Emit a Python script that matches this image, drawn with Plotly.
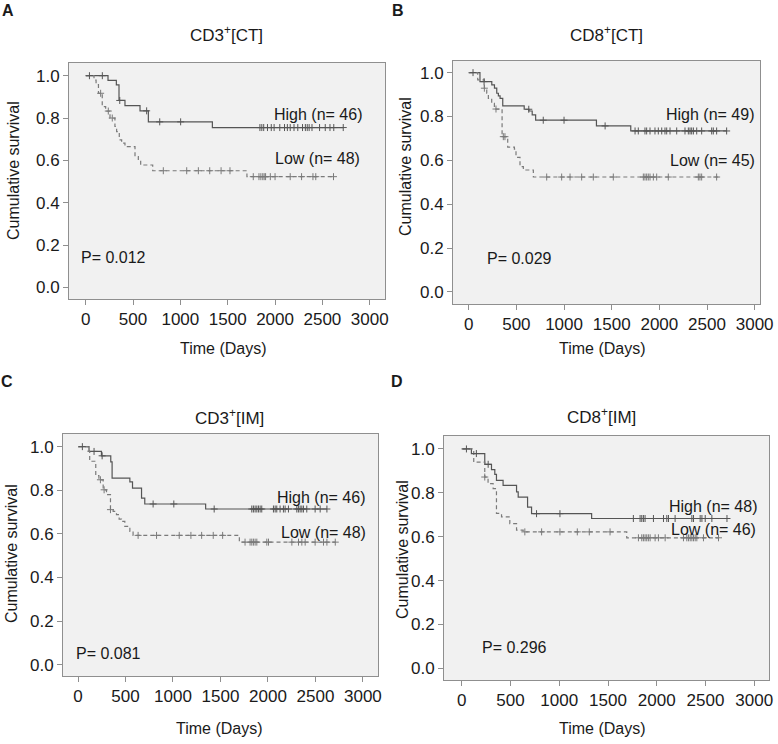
import plotly.graph_objects as go

# ---------------- data ----------------
A_high_t = [0, 236, 324, 352, 415, 574, 662, 1338, 2720]
A_high_s = [1.0, 0.978, 0.957, 0.883, 0.859, 0.834, 0.782, 0.755, 0.755]
A_high_c = [40, 176, 360, 644, 782, 1003, 1840, 1860, 1880, 1920, 1960, 1990, 2050, 2100,
            2130, 2160, 2200, 2240, 2290, 2320, 2340, 2360, 2390, 2470, 2530, 2580, 2620, 2720]
A_low_t = [0, 88, 110, 135, 175, 211, 257, 309, 327, 355, 380, 415, 521, 556, 581, 708, 1703, 2617]
A_low_s = [1.0, 0.979, 0.958, 0.917, 0.854, 0.833, 0.800, 0.760, 0.736, 0.697, 0.681, 0.665,
           0.618, 0.600, 0.578, 0.551, 0.523, 0.523]
A_low_c = [158, 239, 281, 820, 1067, 1190, 1310, 1430, 1524, 1770, 1830, 1850, 1870, 1885,
           1900, 1950, 2000, 2160, 2280, 2400, 2430, 2617]

B_high_t = [0, 118, 242, 270, 294, 311, 329, 357, 582, 631, 666, 702, 1340, 1700, 2710]
B_high_s = [1.0, 0.959, 0.944, 0.929, 0.906, 0.894, 0.883, 0.848, 0.833, 0.825, 0.807, 0.783,
            0.757, 0.734, 0.734]
B_high_c = [45, 161, 630, 782, 1000, 1431, 1745, 1779, 1849, 1867, 1902, 1954, 1989, 2025, 2059,
            2077, 2112, 2182, 2269, 2304, 2322, 2339, 2357, 2392, 2444, 2549, 2566, 2601, 2706]
B_low_t = [0, 94, 164, 189, 206, 241, 269, 350, 409, 479, 496, 538, 573, 678, 2618]
B_low_s = [1.0, 0.967, 0.929, 0.906, 0.883, 0.860, 0.834, 0.708, 0.660, 0.651, 0.614, 0.571,
           0.556, 0.524, 0.524]
B_low_c = [164, 286, 363, 380, 818, 975, 1063, 1185, 1307, 1517, 1832, 1849, 1867, 1884, 1902,
           1937, 1972, 2094, 2409, 2426, 2444, 2601]

C_high_t = [0, 116, 247, 345, 359, 546, 574, 669, 703, 1344, 2621]
C_high_s = [1.0, 0.978, 0.958, 0.930, 0.856, 0.838, 0.810, 0.764, 0.737, 0.714, 0.714]
C_high_c = [46, 169, 254, 791, 1009, 1434, 1830, 1847, 1865, 1883, 1900, 1918, 1935, 2058, 2076,
            2093, 2128, 2163, 2181, 2216, 2304, 2321, 2339, 2357, 2374, 2409, 2497, 2550, 2621]
C_low_t = [0, 106, 123, 187, 220, 265, 300, 342, 370, 405, 433, 458, 493, 546, 580, 1699, 2709]
C_low_s = [1.0, 0.978, 0.933, 0.867, 0.848, 0.802, 0.780, 0.711, 0.703, 0.688, 0.668, 0.657,
           0.634, 0.611, 0.593, 0.562, 0.562]
C_low_c = [236, 275, 342, 633, 827, 1066, 1189, 1302, 1424, 1523, 1759, 1812, 1830, 1847, 1865,
           1883, 1988, 2006, 2252, 2322, 2357, 2392, 2497, 2585, 2621, 2709]

D_high_t = [0, 99, 236, 305, 339, 356, 424, 562, 579, 675, 716, 1332, 2720]
D_high_s = [1.0, 0.979, 0.930, 0.906, 0.884, 0.857, 0.834, 0.804, 0.780, 0.735, 0.705, 0.683, 0.683]
D_high_c = [48, 150, 271, 767, 1007, 1760, 1829, 1846, 1863, 1880, 1966, 2069, 2103, 2120, 2188,
            2360, 2377, 2445, 2463, 2497, 2565, 2720]
D_low_t = [0, 123, 236, 270, 322, 356, 408, 493, 562, 630, 1692, 2633]
D_low_s = [1.0, 0.940, 0.872, 0.842, 0.819, 0.706, 0.690, 0.660, 0.630, 0.622, 0.595, 0.595]
D_low_c = [236, 647, 819, 1007, 1185, 1308, 1521, 1812, 1846, 1863, 1880, 1897, 1914, 1932, 1983,
           2017, 2086, 2274, 2308, 2325, 2343, 2360, 2377, 2394, 2411, 2479, 2633]

titles = ["CD3<sup>+</sup>[CT]", "CD8<sup>+</sup>[CT]", "CD3<sup>+</sup>[IM]", "CD8<sup>+</sup>[IM]"]
letters = ["A", "B", "C", "D"]
high_labels = ["High (n= 46)", "High (n= 49)", "High (n= 46)", "High (n= 48)"]
low_labels = ["Low (n= 48)", "Low (n= 45)", "Low (n= 48)", "Low (n= 46)"]
p_labels = ["P= 0.012", "P= 0.029", "P= 0.081", "P= 0.296"]
x_ticks = [0, 500, 1000, 1500, 2000, 2500, 3000]
y_ticks = [0.0, 0.2, 0.4, 0.6, 0.8, 1.0]
x_title = "Time (Days)"
y_title = "Cumulative survival"

series = [
    (A_high_t, A_high_s, A_high_c, A_low_t, A_low_s, A_low_c),
    (B_high_t, B_high_s, B_high_c, B_low_t, B_low_s, B_low_c),
    (C_high_t, C_high_s, C_high_c, C_low_t, C_low_s, C_low_c),
    (D_high_t, D_high_s, D_high_c, D_low_t, D_low_s, D_low_c),
]

# ---------------- layout geometry (pixels) ----------------
W, H = 778, 744
def fx(p):
    return p / W
def fy(p):
    return 1 - p / H

boxes = [  # x0, x1, y0(top), y1(bottom), xrange, yrange
    (69, 385, 63, 299, [-176, 3161], [-0.055, 1.060]),
    (453, 760, 61, 304, [-165, 3056], [-0.055, 1.053]),
    (63, 378, 434, 676, [-158, 3159], [-0.052, 1.058]),
    (444, 769, 436, 680, [-182, 3151], [-0.053, 1.059]),
]
title_pos = [(226, 34), (606, 34), (229, 417), (601, 416)]
letter_pos = [(8, 11), (398, 11), (7, 381), (397, 381)]
high_pos = [(365, 115), (757, 115), (368, 498), (760, 507)]
low_pos = [(362, 158), (757, 160), (368, 532), (758, 529)]
p_pos = [(79, 257), (485, 258), (74, 653), (480, 647)]
xt_pos = [(223, 348), (602, 348), (219, 728), (602, 728)]
yt_pos = [(13, 171), (405, 167), (11, 554), (402, 550)]

FONT = "Liberation Sans, Arial, sans-serif"
TXT = "#1a1a1a"
SOLID = "#555555"
DASHC = "#7a7a7a"


def surv_at(ts, ss, t):
    v = ss[0]
    for ti, si in zip(ts, ss):
        if ti <= t:
            v = si
    return v


fig = go.Figure()
annotations = []
for i, (ht, hs, hc, lt, ls, lc) in enumerate(series):
    sfx = "" if i == 0 else str(i + 1)
    xa, ya = "x" + sfx, "y" + sfx
    fig.add_trace(go.Scatter(x=ht, y=hs, mode="lines", line=dict(shape="hv", color=SOLID, width=1.2),
                             xaxis=xa, yaxis=ya, showlegend=False, hoverinfo="skip"))
    fig.add_trace(go.Scatter(x=lt, y=ls, mode="lines",
                             line=dict(shape="hv", color=DASHC, width=1.2, dash="4px,3px"),
                             xaxis=xa, yaxis=ya, showlegend=False, hoverinfo="skip"))
    fig.add_trace(go.Scatter(x=hc, y=[surv_at(ht, hs, t) for t in hc], mode="markers",
                             marker=dict(symbol="cross-thin", size=5, line=dict(color=SOLID, width=1)),
                             xaxis=xa, yaxis=ya, showlegend=False, hoverinfo="skip"))
    fig.add_trace(go.Scatter(x=lc, y=[surv_at(lt, ls, t) for t in lc], mode="markers",
                             marker=dict(symbol="cross-thin", size=5, line=dict(color=DASHC, width=1)),
                             xaxis=xa, yaxis=ya, showlegend=False, hoverinfo="skip"))

    x0, x1, y0, y1, xr, yr = boxes[i]
    common = dict(showline=True, mirror=True, linecolor="#8f8f8f", linewidth=1,
                  ticks="outside", ticklen=5, tickcolor="#8f8f8f", showgrid=False, zeroline=False,
                  tickangle=0, automargin=False, ticklabeloverflow="allow",
                  tickfont=dict(family=FONT, size=17, color=TXT), fixedrange=True)
    fig.update_layout(**{
        ("xaxis" + sfx): dict(domain=[fx(x0), fx(x1)], range=xr, anchor=ya, tickvals=x_ticks,
                              ticktext=[str(v) for v in x_ticks], **common),
        ("yaxis" + sfx): dict(domain=[fy(y1), fy(y0)], range=yr, anchor=xa, tickvals=y_ticks,
                              ticktext=["%.1f" % v for v in y_ticks], ticklabelstandoff=0, **common),
    })

    def ann(text, pos, size=16, xanchor="center", **kw):
        annotations.append(dict(text=text, x=fx(pos[0]), y=fy(pos[1]), xref="paper", yref="paper",
                                xanchor=xanchor, yanchor="middle", showarrow=False,
                                font=dict(family=FONT, size=size, color=TXT), **kw))

    ann(titles[i], title_pos[i], size=17)
    ann("<b>" + letters[i] + "</b>", letter_pos[i], size=16)
    ann(high_labels[i], high_pos[i], xanchor="right")
    ann(low_labels[i], low_pos[i], xanchor="right")
    ann(p_labels[i], p_pos[i], xanchor="left")
    ann(x_title, xt_pos[i])
    ann(y_title, yt_pos[i], textangle=-90)

fig.update_layout(width=W, height=H, margin=dict(l=0, r=0, t=0, b=0),
                  paper_bgcolor="white", plot_bgcolor="#f1f1f1",
                  annotations=annotations, showlegend=False)

fig.write_html("out.html", config={"displayModeBar": False, "staticPlot": True},
               post_script="document.body.style.margin='0px';document.body.style.padding='0px';")
